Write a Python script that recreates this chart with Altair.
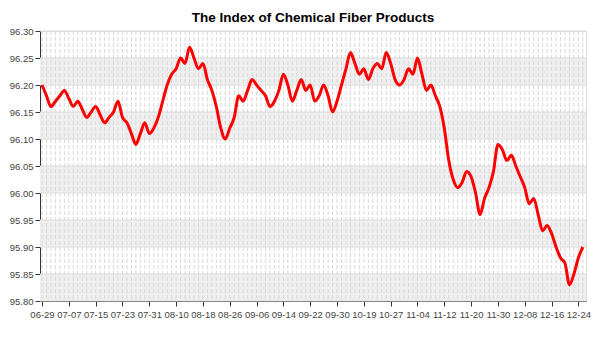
import altair as alt
import pandas as pd

# Index values, one per trading day (06-29 .. 12-25)
values = [
    96.20, 96.18, 96.16, 96.17, 96.18, 96.19, 96.175, 96.16, 96.17, 96.155,
    96.14, 96.15, 96.16, 96.145, 96.13, 96.14, 96.15, 96.17, 96.14, 96.13,
    96.11, 96.09, 96.11, 96.13, 96.11, 96.12, 96.14, 96.17, 96.20, 96.22,
    96.23, 96.25, 96.24, 96.27, 96.25, 96.23, 96.24, 96.21, 96.19, 96.16,
    96.12, 96.10, 96.12, 96.14, 96.18, 96.17, 96.19, 96.21, 96.20, 96.19,
    96.18, 96.16, 96.17, 96.19, 96.22, 96.20, 96.17, 96.19, 96.21, 96.19,
    96.20, 96.17, 96.18, 96.20, 96.18, 96.15, 96.17, 96.20, 96.23, 96.26,
    96.24, 96.22, 96.23, 96.21, 96.23, 96.24, 96.23, 96.26, 96.24, 96.21,
    96.20, 96.21, 96.23, 96.22, 96.25, 96.22, 96.19, 96.20, 96.18, 96.16,
    96.12, 96.06, 96.025, 96.01, 96.02, 96.04, 96.03, 96.00, 95.96, 95.99,
    96.01, 96.04, 96.09, 96.08, 96.06, 96.07, 96.05, 96.03, 96.01, 95.98,
    95.99, 95.96, 95.93, 95.94, 95.925, 95.90, 95.88, 95.87, 95.83, 95.85,
    95.88, 95.90,
]

# Axis tick labels, one every 6 trading days
tick_labels = ['06-29', '07-07', '07-15', '07-23', '07-31', '08-10', '08-18',
               '08-26', '09-06', '09-14', '09-22', '09-30', '10-19', '10-27',
               '11-04', '11-12', '11-20', '11-30', '12-08', '12-16', '12-24']
tick_step = 6

y_ticks = [95.80, 95.85, 95.90, 95.95, 96.00, 96.05, 96.10, 96.15, 96.20, 96.25, 96.30]
band_starts = [95.80, 95.90, 96.00, 96.10, 96.20]
band_size = 0.05

df = pd.DataFrame({'i': list(range(len(values))), 'v': values})
bands = pd.DataFrame({'y': band_starts, 'y2': [b + band_size for b in band_starts]})
hgrid = pd.DataFrame({'y': y_ticks})

xscale = alt.Scale(domain=[-0.45, 121.7], nice=False, zero=False)
yscale = alt.Scale(domain=[95.80, 96.30], nice=False, zero=False)

label_arr = "[" + ",".join("'%s'" % t for t in tick_labels) + "]"

xaxis = alt.Axis(values=list(range(0, len(tick_labels) * tick_step, tick_step)),
                 labelExpr=label_arr + "[round(datum.value/%d)]" % tick_step,
                 grid=False, tickSize=5, labelPadding=3,
                 domainColor='#333333', tickColor='#333333',
                 labelColor='#444444', labelFont='Liberation Sans',
                 labelFontSize=9.5, labelFlush=False)
yaxis = alt.Axis(values=y_ticks, format='.2f', grid=False, tickSize=5,
                 labelPadding=2, domainColor='#333333', tickColor='#333333',
                 labelColor='#444444', labelFont='Liberation Sans',
                 labelFontSize=9.5)

band_layer = alt.Chart(bands).mark_rect(color='#efefef').encode(
    y=alt.Y('y:Q', scale=yscale, axis=yaxis, title=None),
    y2='y2:Q',
)

vgrid = alt.Chart(df).mark_rule(color='#d8d8d8', strokeDash=[4, 2], strokeWidth=1).encode(
    x=alt.X('i:Q', scale=xscale, axis=xaxis, title=None),
)

hgrid_layer = alt.Chart(hgrid).mark_rule(color='#dcdcdc', strokeWidth=1).encode(
    y=alt.Y('y:Q', scale=yscale, axis=yaxis, title=None),
)

line = alt.Chart(df).mark_line(
    color='#ff0000', strokeWidth=3, interpolate='monotone'
).encode(
    x=alt.X('i:Q', scale=xscale, axis=xaxis, title=None),
    y=alt.Y('v:Q', scale=yscale, axis=yaxis, title=None),
)

chart = alt.layer(band_layer, vgrid, hgrid_layer, line).properties(
    width=546,
    height=270,
    autosize=alt.AutoSizeParams(type='none'),
    padding={'left': 40, 'top': 31, 'right': 14, 'bottom': 49},
    title=alt.TitleParams('The Index of Chemical Fiber Products',
                          font='Liberation Sans', fontSize=13.5, fontWeight='bold',
                          color='#000000', anchor='middle', offset=2),
).configure_view(stroke='#b0b0b0', strokeWidth=1).configure(background='white')

chart.save("out.html", embed_options={"renderer": "svg", "actions": False})
